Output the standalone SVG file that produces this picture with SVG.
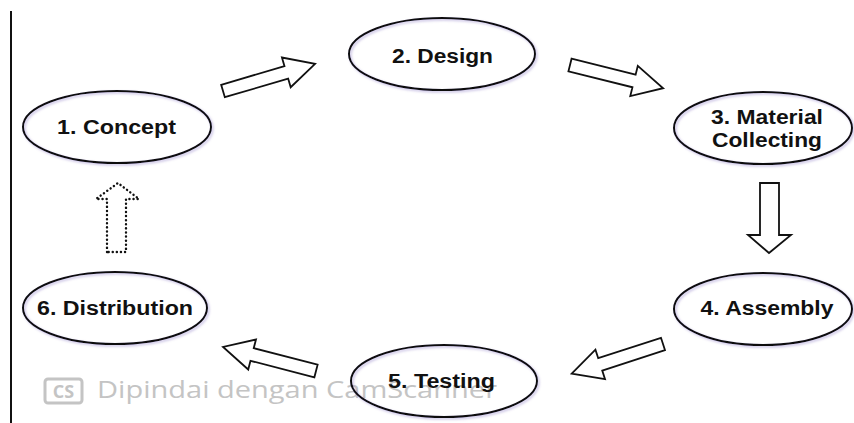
<svg xmlns="http://www.w3.org/2000/svg" xmlns:xlink="http://www.w3.org/1999/xlink" width="854" height="423" viewBox="0 0 854 423">
  <defs>
    <style>
      .node ellipse { fill: none; stroke: #111; stroke-width: 2; filter: url(#glow); }
      .node text { font-family: "Liberation Sans", Arial, sans-serif; font-weight: bold; font-size: 19.5px; fill: #111; text-anchor: middle; }
      .arrow { fill: #fff; stroke: #111; stroke-width: 1.8; stroke-linejoin: miter; }
      .dotted { fill: none; stroke: #111; stroke-width: 2.4; stroke-dasharray: 0.1 4; stroke-linecap: round; }
      .wm { font-family: "Open Sans", "Noto Sans", sans-serif; fill: #c4c4c4; }
    </style>
    <filter id="glow" x="-10%" y="-20%" width="120%" height="140%">
      <feDropShadow dx="1.5" dy="1.5" stdDeviation="1" flood-color="#8070c0" flood-opacity="0.45"/>
    </filter>
    <path id="blk" d="M0,-6.5 L66,-6.5 L66,-15.5 L96,0 L66,15.5 L66,6.5 L0,6.5 Z"/>
  </defs>

  <rect width="854" height="423" fill="#fff"/>
  <line x1="11" y1="11" x2="11" y2="423" stroke="#111" stroke-width="2"/>

  <g id="watermark">
    <rect x="45" y="379" width="37" height="24" rx="3" fill="none" stroke="#c4c4c4" stroke-width="3"/>
    <text class="wm" x="63.5" y="397.5" font-size="18" font-weight="bold" text-anchor="middle">CS</text>
    <text class="wm" x="97" y="398" font-size="24" textLength="400" lengthAdjust="spacingAndGlyphs">Dipindai dengan CamScanner</text>
  </g>

  <g id="connectors">
    <use href="#blk" xlink:href="#blk" class="arrow" transform="translate(223,91) rotate(-16.4)"/>
    <use href="#blk" xlink:href="#blk" class="arrow" transform="translate(570,65) rotate(14)"/>
    <path class="arrow" d="M760,183 L779,183 L779,235 L791,235 L769,253 L748,235 L760,235 Z"/>
    <use href="#blk" xlink:href="#blk" class="arrow" transform="translate(663,344) rotate(162)"/>
    <use href="#blk" xlink:href="#blk" class="arrow" transform="translate(316,371) rotate(194.5)"/>
    <path class="dotted" d="M107,252 L107,199 L96,199 L118,183 L139,199 L126,199 L126,252 Z"/>
  </g>

  <g id="n1" class="node">
    <ellipse cx="117" cy="127" rx="94" ry="36"/>
    <text x="116.5" y="134" textLength="119" lengthAdjust="spacingAndGlyphs">1. Concept</text>
  </g>
  <g id="n2" class="node">
    <ellipse cx="442" cy="54" rx="93" ry="36"/>
    <text x="442.5" y="63" textLength="101" lengthAdjust="spacingAndGlyphs">2. Design</text>
  </g>
  <g id="n3" class="node">
    <ellipse cx="763" cy="128" rx="89" ry="36"/>
    <text x="767" y="124" textLength="112" lengthAdjust="spacingAndGlyphs">3. Material</text>
    <text x="767" y="147" textLength="110" lengthAdjust="spacingAndGlyphs">Collecting</text>
  </g>
  <g id="n4" class="node">
    <ellipse cx="763" cy="309" rx="89" ry="36"/>
    <text x="767" y="315" textLength="133" lengthAdjust="spacingAndGlyphs">4. Assembly</text>
  </g>
  <g id="n5" class="node">
    <ellipse cx="444" cy="381" rx="93" ry="36"/>
    <text x="441.5" y="388" textLength="107" lengthAdjust="spacingAndGlyphs">5. Testing</text>
  </g>
  <g id="n6" class="node">
    <ellipse cx="115" cy="308" rx="92" ry="36"/>
    <text x="115" y="315" textLength="156" lengthAdjust="spacingAndGlyphs">6. Distribution</text>
  </g>
</svg>
